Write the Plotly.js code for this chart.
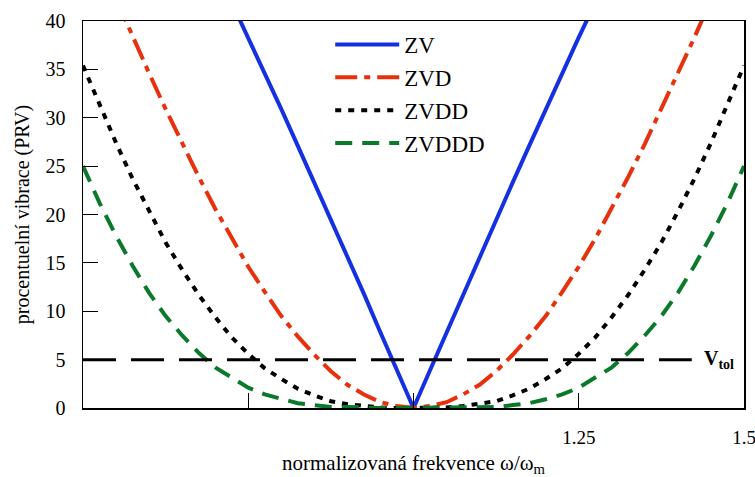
<!DOCTYPE html>
<html>
<head>
<meta charset="utf-8">
<script src="https://cdn.plot.ly/plotly-3.0.1.min.js"></script>
<style>
html,body{margin:0;padding:0;background:#fff;}
#chart{width:755px;height:477px;}
</style>
</head>
<body>
<div id="chart"></div>
<script>
// normalized frequency grid (omega / omega_m)
const omega = [0.5,0.525,0.55,0.575,0.6,0.625,0.65,0.675,0.7,0.725,0.75,0.775,0.8,0.825,0.85,0.875,0.9,0.925,0.95,0.975,1.0,
  1.025,1.05,1.075,1.1,1.125,1.15,1.175,1.2,1.225,1.25,1.275,1.3,1.325,1.35,1.375,1.4,1.425,1.45,1.475,1.5];
const omegaZV = [0.725,0.75,0.775,0.8,0.825,0.85,0.875,0.9,0.925,0.95,0.975,1.0,
  1.025,1.05,1.075,1.1,1.125,1.15,1.175,1.2,1.225,1.25,1.275];
// percentage residual vibration (PRV)
const zv = [41.9,38.3,34.6,30.9,27.1,23.3,19.5,15.6,11.8,7.8,3.9,0.0,
  3.9,7.8,11.8,15.6,19.5,23.3,27.1,30.9,34.6,38.3,41.9];
const zvd = [50.0,46.1,42.2,38.3,34.6,30.9,27.3,23.9,20.6,17.5,14.6,12.0,9.5,7.4,5.5,3.8,2.4,1.4,0.6,0.2,0.0,
  0.2,0.6,1.4,2.4,3.8,5.5,7.4,9.5,12.0,14.6,17.5,20.6,23.9,27.3,30.9,34.6,38.3,42.2,46.1,50.0];
const zvdd = [35.4,31.3,27.4,23.7,20.3,17.1,14.3,11.7,9.4,7.3,5.6,4.1,3.0,2.0,1.3,0.7,0.4,0.2,0.05,0.0,0.0,
  0.0,0.05,0.2,0.4,0.7,1.3,2.0,3.0,4.1,5.6,7.3,9.4,11.7,14.3,17.1,20.3,23.7,27.4,31.3,35.4];
const zvddd = [25.0,21.2,17.8,14.7,11.9,9.5,7.5,5.7,4.2,3.1,2.1,1.4,0.9,0.5,0.3,0.1,0.1,0.0,0.0,0.0,0.0,
  0.0,0.0,0.0,0.1,0.1,0.3,0.5,0.9,1.4,2.1,3.1,4.2,5.7,7.5,9.5,11.9,14.7,17.8,21.2,25.0];
// tolerance line
const vtolX = [0.5, 1.421];
const vtolY = [5, 5];
const xTickVals = [0.75, 1.0, 1.25, 1.5];
const xTickText = [' ', ' ', '1.25', '1.5'];
const yTickVals = [0,5,10,15,20,25,30,35,40];

const serif = '"Liberation Serif", "Times New Roman", serif';

const traces = [
  {x: omegaZV, y: zv, name: 'ZV', mode: 'lines', line: {color: '#1530e0', width: 4}},
  {x: omega, y: zvd, name: 'ZVD', mode: 'lines', line: {color: '#e8300c', width: 4, dash: '22px,7px,6px,7px'}},
  {x: omega, y: zvdd, name: 'ZVDD', mode: 'lines', line: {color: '#000000', width: 4, dash: '6px,7px'}},
  {x: omega, y: zvddd, name: 'ZVDDD', mode: 'lines', line: {color: '#0a7a2a', width: 4, dash: '17px,10px'}},
  {x: vtolX, y: vtolY, mode: 'lines', showlegend: false, hoverinfo: 'skip', line: {color: '#000000', width: 3, dash: '33px,15px'}}
];

const layout = {
  width: 755, height: 477,
  margin: {l: 83, r: 11, t: 21, b: 69},
  paper_bgcolor: '#fff', plot_bgcolor: '#fff',
  font: {family: serif, color: '#000', size: 19},
  showlegend: true,
  legend: {x: 0.374, y: 0.995, xanchor: 'left', yanchor: 'top', bgcolor: 'rgba(0,0,0,0)',
    font: {family: serif, size: 23, color: '#000'}, itemwidth: 64, tracegroupgap: 0},
  xaxis: {range: [0.5, 1.5], tickvals: xTickVals, ticktext: xTickText, ticks: 'inside', ticklen: 15,
    tickwidth: 1, tickcolor: '#000', showgrid: false, zeroline: false, showline: true, linecolor: '#000',
    linewidth: 1.5, mirror: true, ticklabelstandoff: 12, ticklabeloverflow: 'allow',
    tickfont: {family: serif, size: 19},
    title: {text: 'normalizovaná frekvence ω/ω<sub>m</sub>', font: {family: serif, size: 21}, standoff: 12}},
  yaxis: {range: [0, 40], tickvals: yTickVals, ticks: 'inside', ticklen: 15, tickwidth: 1, tickcolor: '#000',
    showgrid: false, zeroline: false, showline: true, linecolor: '#000', linewidth: 1.5, mirror: true,
    ticklabelstandoff: 12, tickfont: {family: serif, size: 20},
    title: {text: 'procentuelní vibrace (PRV)', font: {family: serif, size: 20}, standoff: 10}},
  annotations: [{x: 1.436, y: 5, xref: 'x', yref: 'y', xanchor: 'left', yanchor: 'middle', showarrow: false,
    text: '<b>V<sub>tol</sub></b>', font: {family: serif, size: 20, color: '#000'}}]
};

Plotly.newPlot('chart', traces, layout, {displayModeBar: false, staticPlot: true});
</script>
</body>
</html>
